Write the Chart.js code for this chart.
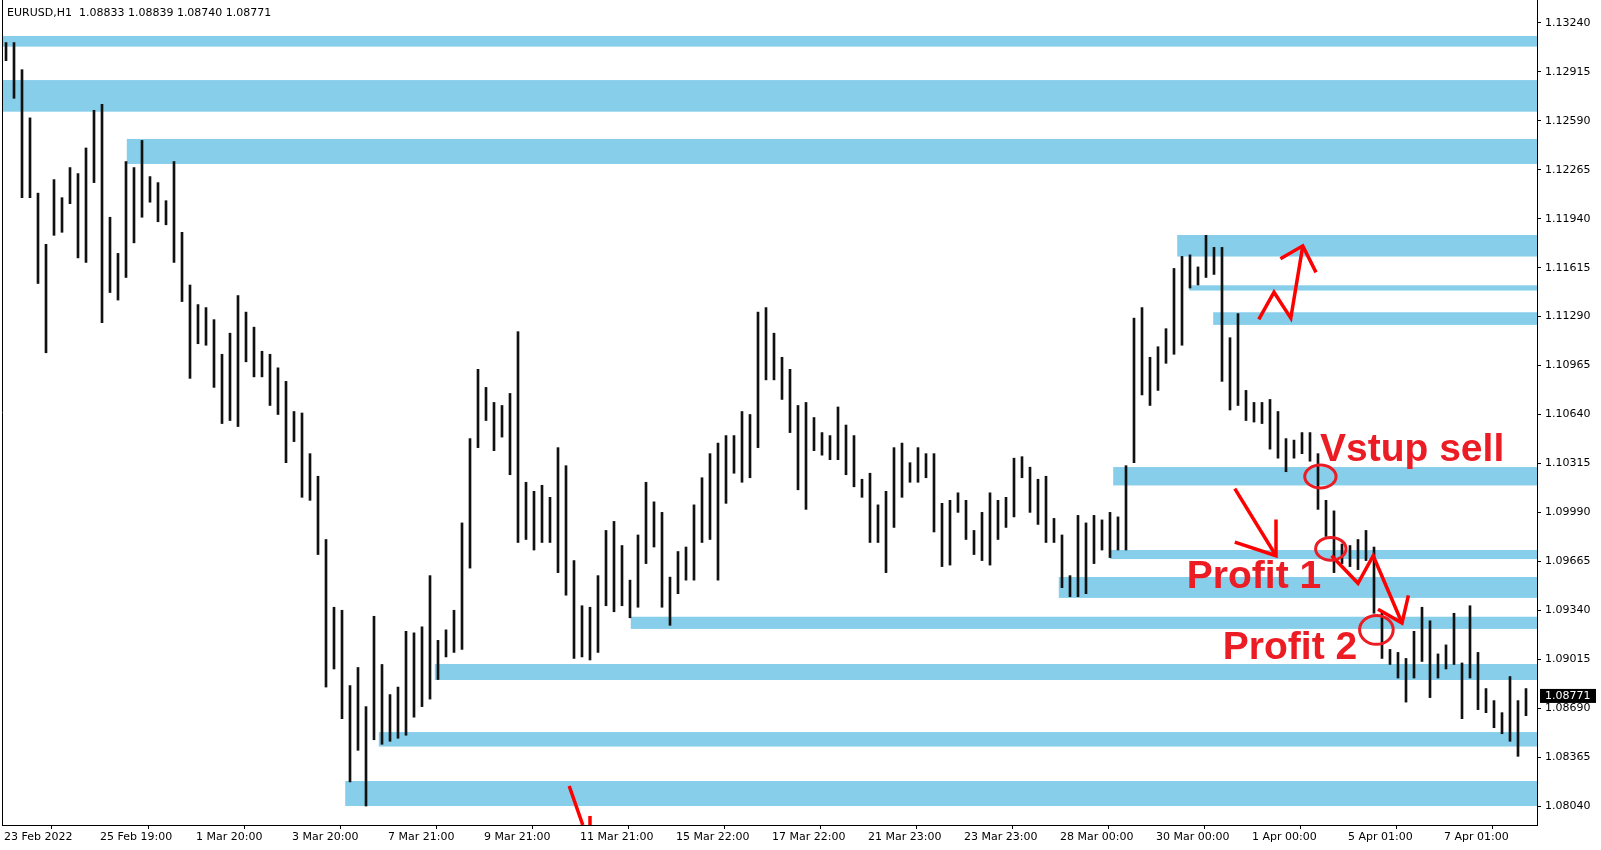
<!DOCTYPE html>
<html>
<head>
<meta charset="utf-8">
<script src="https://cdn.jsdelivr.net/npm/chart.js@4.4.0/dist/chart.umd.min.js"></script>
<style>
html, body { margin: 0; padding: 0; background: #fff; }
</style>
</head>
<body>
<canvas id="myChart" width="1601" height="850"></canvas>
<script>
const symbolTitle = "EURUSD,H1";
const lastQuote = [1.08833, 1.08839, 1.08740, 1.08771]; // open, high, low, close of last bar

const xLabels = ["23 Feb 2022", "25 Feb 19:00", "1 Mar 20:00", "3 Mar 20:00", "7 Mar 21:00", "9 Mar 21:00",
  "11 Mar 21:00", "15 Mar 22:00", "17 Mar 22:00", "21 Mar 23:00", "23 Mar 23:00", "28 Mar 00:00",
  "30 Mar 00:00", "1 Apr 00:00", "5 Apr 01:00", "7 Apr 01:00"];
const yTicks = [1.08040, 1.08365, 1.08690, 1.09015, 1.09340, 1.09665, 1.09990, 1.10315, 1.10640,
  1.10965, 1.11290, 1.11615, 1.11940, 1.12265, 1.12590, 1.12915, 1.13240];

// 4-hour high / low
const barHigh = [1.1311, 1.1311, 1.1293, 1.1261, 1.1211, 1.1177, 1.1220, 1.1208, 1.1228, 1.1224,
  1.1241, 1.1266, 1.1270, 1.1195, 1.1171, 1.1232, 1.1228, 1.1246, 1.1222, 1.1218,
  1.1206, 1.1232, 1.1185, 1.1150, 1.1137, 1.1135, 1.1127, 1.1104, 1.1118, 1.1143,
  1.1132, 1.1122, 1.1106, 1.1104, 1.1095, 1.1086, 1.1066, 1.1065, 1.1038, 1.1023,
  1.0981, 1.0936, 1.0934, 1.0884, 1.0896, 1.0870, 1.0930, 1.0898, 1.0878, 1.0883,
  1.0920, 1.0919, 1.0923, 1.0957, 1.0914, 1.0921, 1.0934, 1.0992, 1.1048, 1.1094,
  1.1082, 1.1072, 1.1070, 1.1078, 1.1119, 1.1019, 1.1013, 1.1017, 1.1009, 1.1042,
  1.1030, 1.0967, 1.0937, 1.0936, 1.0957, 1.0987, 1.0993, 1.0977, 1.0954, 1.0984,
  1.1019, 1.1006, 1.0999, 1.0956, 1.0973, 1.0976, 1.1004, 1.1022, 1.1038, 1.1045,
  1.1050, 1.1050, 1.1066, 1.1064, 1.1132, 1.1135, 1.1118, 1.1102, 1.1094, 1.1070,
  1.1072, 1.1062, 1.1052, 1.1050, 1.1069, 1.1057, 1.1050, 1.1021, 1.1025, 1.1004,
  1.1013, 1.1042, 1.1045, 1.1032, 1.1042, 1.1038, 1.1038, 1.1005, 1.1007, 1.1012,
  1.1007, 1.0987, 1.0999, 1.1012, 1.1007, 1.1009, 1.1035, 1.1036, 1.1029, 1.1021,
  1.1023, 1.0995, 1.0984, 1.0957, 1.0997, 1.0992, 1.0997, 1.0994, 1.0999, 1.0996,
  1.1030, 1.1128, 1.1135, 1.1102, 1.1109, 1.1121, 1.1161, 1.1169, 1.1170, 1.1162,
  1.1183, 1.1175, 1.1175, 1.1115, 1.1131, 1.1080, 1.1072, 1.1072, 1.1074, 1.1066,
  1.1048, 1.1047, 1.1052, 1.1052, 1.1038, 1.1007, 1.1000, 1.0978, 1.0977, 1.0981,
  1.0987, 1.0976, 1.0932, 1.0908, 1.0906, 1.0902, 1.0920, 1.0936, 1.0927, 1.0905,
  1.0911, 1.0932, 1.0899, 1.0937, 1.0906, 1.0882, 1.0874, 1.0866, 1.0890, 1.0874,
  1.0882];
const barLow = [1.1299, 1.1274, 1.1208, 1.1208, 1.1151, 1.1105, 1.1183, 1.1185, 1.1204, 1.1168,
  1.1165, 1.1218, 1.1125, 1.1145, 1.1140, 1.1155, 1.1178, 1.1195, 1.1205, 1.1192,
  1.1190, 1.1165, 1.1139, 1.1088, 1.1111, 1.1110, 1.1082, 1.1058, 1.1060, 1.1056,
  1.1099, 1.1089, 1.1089, 1.1070, 1.1064, 1.1032, 1.1046, 1.1009, 1.1007, 1.0971,
  1.0883, 1.0895, 1.0862, 1.0820, 1.0841, 1.0804, 1.0848, 1.0845, 1.0847, 1.0849,
  1.0851, 1.0863, 1.0870, 1.0875, 1.0888, 1.0903, 1.0906, 1.0908, 1.0962, 1.1042,
  1.1060, 1.1040, 1.1049, 1.1024, 1.0979, 1.0981, 1.0974, 1.0979, 1.0979, 1.0959,
  1.0944, 1.0902, 1.0903, 1.0901, 1.0906, 1.0937, 1.0933, 1.0937, 1.0929, 1.0936,
  1.0965, 1.0976, 1.0936, 1.0924, 1.0945, 1.0954, 1.0954, 1.0979, 1.0981, 1.0954,
  1.1005, 1.1025, 1.1019, 1.1022, 1.1042, 1.1087, 1.1087, 1.1074, 1.1052, 1.1014,
  1.1001, 1.1040, 1.1037, 1.1034, 1.1034, 1.1024, 1.1016, 1.1009, 1.0979, 1.0979,
  1.0959, 1.0989, 1.1009, 1.1019, 1.1019, 1.1022, 1.0986, 1.0963, 1.0964, 1.0999,
  1.0981, 1.0971, 1.0967, 1.0964, 1.0981, 1.0989, 1.0996, 1.1022, 1.0999, 1.0991,
  1.0979, 1.0979, 1.0949, 1.0943, 1.0943, 1.0945, 1.0965, 1.0974, 1.0969, 1.0974,
  1.0974, 1.1032, 1.1077, 1.1070, 1.1080, 1.1098, 1.1104, 1.1110, 1.1148, 1.1150,
  1.1155, 1.1157, 1.1086, 1.1067, 1.1070, 1.1060, 1.1059, 1.1058, 1.1041, 1.1035,
  1.1026, 1.1035, 1.1038, 1.1033, 1.1001, 1.0983, 1.0959, 1.0965, 1.0963, 1.0961,
  1.0967, 1.0932, 1.0902, 1.0898, 1.0889, 1.0873, 1.0889, 1.0900, 1.0876, 1.0889,
  1.0895, 1.0898, 1.0862, 1.0889, 1.0868, 1.0866, 1.0856, 1.0852, 1.0847, 1.0837,
  1.0864];

// support / resistance zones: first bar, upper price, lower price
const zoneFrom = [-0.5, -0.5, 15.1, 146.4, 147.9, 150.9, 138.4, 138.0, 131.6, 78.1, 53.6, 46.6, 42.4];
const zoneHigh = [1.13154, 1.12861, 1.12470, 1.11832, 1.11498, 1.11319, 1.10291, 1.09740, 1.09561, 1.09297, 1.08983, 1.08531, 1.08206];
const zoneLow = [1.13083, 1.12651, 1.12304, 1.11689, 1.11463, 1.11235, 1.10169, 1.09680, 1.09422, 1.09216, 1.08877, 1.08435, 1.08040];

// hand drawn marks, in (bar, price)
const arrowPaths = [
  [[156.6, 1.11272], [158.5, 1.11452], [160.6, 1.11280], [162.1, 1.11760]],
  [[159.3, 1.11675], [162.1, 1.11760], [163.75, 1.11584]],
  [[153.6, 1.10148], [158.75, 1.09702]],
  [[153.6, 1.09793], [158.75, 1.09702], [158.75, 1.09942]],
  [[165.7, 1.09702], [169.0, 1.09519], [170.9, 1.09702], [174.5, 1.09255]],
  [[171.5, 1.09347], [174.5, 1.09255], [175.3, 1.09439]],
  [[70.4, 1.08173], [72.1, 1.07914]],
  [[73.0, 1.07974], [73.0, 1.07914]]
];
const rings = [[164.3, 1.10228, 1.96, 0.00076], [165.6, 1.09748, 1.9, 0.00076], [171.3, 1.09210, 2.1, 0.00096]];
const notes = ["Vstup sell", "Profit 1", "Profit 2"];
const notePos = [[164.25, 1.10331], [147.6, 1.09485], [152.1, 1.09016]];

const xTickPos = xLabels.map((_, k) => 12 * k - 0.25);

const extras = {
  id: 'extras',
  beforeDatasetsDraw(chart) {
    const {ctx, chartArea: a, scales: {x, y}} = chart;
    ctx.save();
    ctx.fillStyle = '#87ceeb';
    for (let i = 0; i < zoneFrom.length; i++) {
      const left = Math.max(a.left, x.getPixelForValue(zoneFrom[i]));
      const top = y.getPixelForValue(zoneHigh[i]);
      const bot = y.getPixelForValue(zoneLow[i]);
      ctx.fillRect(left, top, a.right - left, bot - top);
    }
    ctx.restore();
  },
  afterDraw(chart) {
    const {ctx, chartArea: a, scales: {x, y}} = chart;
    ctx.save();
    // left frame
    ctx.strokeStyle = '#000';
    ctx.lineWidth = 1;
    ctx.beginPath();
    ctx.moveTo(a.left + 0.5, a.top);
    ctx.lineTo(a.left + 0.5, a.bottom);
    ctx.stroke();

    // title
    ctx.fillStyle = '#000';
    ctx.font = '11px "DejaVu Sans"';
    ctx.textBaseline = 'middle';
    ctx.fillText(symbolTitle + '  ' + lastQuote.map(v => v.toFixed(5)).join(' '), a.left + 5, 13);

    // annotations
    ctx.beginPath();
    ctx.rect(a.left, a.top, a.right - a.left, a.bottom - a.top);
    ctx.clip();
    ctx.strokeStyle = '#ff0000';
    ctx.lineWidth = 3.5;
    ctx.lineJoin = 'miter';
    arrowPaths.forEach(p => {
      ctx.beginPath();
      p.forEach((pt, i) => {
        const px = x.getPixelForValue(pt[0]), py = y.getPixelForValue(pt[1]);
        if (i === 0) ctx.moveTo(px, py); else ctx.lineTo(px, py);
      });
      ctx.stroke();
    });
    ctx.strokeStyle = '#ec1c24';
    ctx.lineWidth = 3;
    rings.forEach(r => {
      const cx = x.getPixelForValue(r[0]), cy = y.getPixelForValue(r[1]);
      const rx = x.getPixelForValue(r[0] + r[2]) - cx;
      const ry = cy - y.getPixelForValue(r[1] + r[3]);
      ctx.beginPath();
      ctx.ellipse(cx, cy, rx, ry, 0, 0, Math.PI * 2);
      ctx.stroke();
    });
    ctx.fillStyle = '#ec1c24';
    ctx.font = 'bold 39px "Liberation Sans"';
    ctx.textBaseline = 'alphabetic';
    notes.forEach((t, i) => {
      ctx.fillText(t, x.getPixelForValue(notePos[i][0]), y.getPixelForValue(notePos[i][1]));
    });
    ctx.restore();

    // current price box
    const py = y.getPixelForValue(lastQuote[3]);
    ctx.save();
    ctx.fillStyle = '#000';
    ctx.fillRect(a.right + 3, py - 7, 56, 14);
    ctx.fillStyle = '#fff';
    ctx.font = '11px "DejaVu Sans"';
    ctx.textBaseline = 'middle';
    ctx.fillText(lastQuote[3].toFixed(5), a.right + 8, py + 0.5);
    ctx.restore();
  }
};

new Chart("myChart", {
  type: "bar",
  data: {
    datasets: [{
      data: barHigh.map((h, i) => ({x: i, y: [barLow[i], h]})),
      backgroundColor: "#111",
      borderWidth: 0,
      barThickness: 2
    }]
  },
  options: {
    responsive: false,
    animation: false,
    layout: {padding: {left: 2, top: 0, right: 0, bottom: 0}, autoPadding: false},
    plugins: {legend: {display: false}, tooltip: {enabled: false}},
    scales: {
      x: {
        type: "linear",
        min: -0.5,
        max: 191.375,
        offset: false,
        afterBuildTicks: s => { s.ticks = xTickPos.map(v => ({value: v})); },
        afterFit: s => { s.height = 25; s.paddingLeft = 0; s.paddingRight = 0; },
        grid: {display: true, drawOnChartArea: false, drawTicks: true, tickLength: 4, color: "#000"},
        border: {display: true, color: "#000"},
        ticks: {
          autoSkip: false, maxRotation: 0, align: "start", padding: 2, color: "#000",
          font: {family: "DejaVu Sans", size: 11},
          callback: (v, i) => xLabels[i]
        }
      },
      y: {
        type: "linear",
        position: "right",
        min: 1.079139,
        max: 1.133927,
        afterBuildTicks: s => { s.ticks = yTicks.map(v => ({value: v})); },
        afterFit: s => { s.width = 64; s.paddingTop = 0; s.paddingBottom = 0; },
        grid: {display: true, drawOnChartArea: false, drawTicks: true, tickLength: 4, color: "#000"},
        border: {display: true, color: "#000"},
        ticks: {
          padding: 4, color: "#000",
          font: {family: "DejaVu Sans", size: 11},
          callback: v => v.toFixed(5)
        }
      }
    }
  },
  plugins: [extras]
});
</script>
</body>
</html>
